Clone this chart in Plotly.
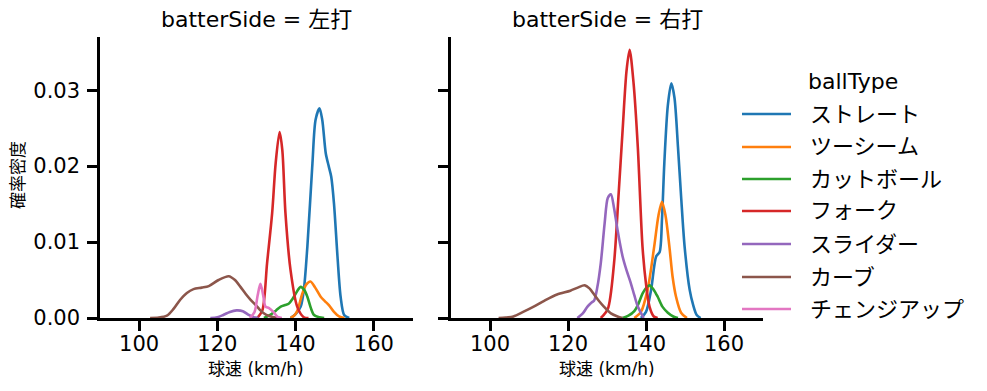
import plotly.graph_objects as go

W, H = 987, 391
FONT = "DejaVu Sans, Noto Sans CJK JP"

ball_types = ["ストレート", "ツーシーム", "カットボール", "フォーク", "スライダー", "カーブ", "チェンジアップ"]
colors = ["#1f77b4", "#ff7f0e", "#2ca02c", "#d62728", "#9467bd", "#8c564b", "#e377c2"]
panel_titles = ["batterSide = 左打", "batterSide = 右打"]
x_ticks = [100, 120, 140, 160]
y_ticks = [0.0, 0.01, 0.02, 0.03]
y_tick_labels = ["0.00", "0.01", "0.02", "0.03"]

# ---- 左打 (left-handed batters): density curves ----
L_straight_x = [138.7, 140.0, 141.3, 142.1, 143.0, 144.3, 145.1, 146.1, 146.8, 147.7, 148.5, 149.1, 149.8, 150.7, 151.5, 152.4, 153.7]
L_straight_y = [0, 0.0005, 0.0015, 0.0037, 0.0094, 0.0204, 0.0261, 0.0276, 0.0261, 0.0217, 0.0199, 0.0186, 0.0151, 0.0081, 0.0028, 0.0004, 0]
L_twoseam_x = [138.7, 139.6, 140.4, 141.7, 142.7, 143.8, 145.0, 146.4, 147.5, 148.5, 149.8, 151.1, 152.5]
L_twoseam_y = [0, 0.0003, 0.0009, 0.0032, 0.0044, 0.0048, 0.0040, 0.0028, 0.0022, 0.0017, 0.0008, 0.0002, 0]
L_cutter_x = [131.9, 133.5, 135.0, 136.2, 137.3, 138.3, 139.2, 140.0, 141.3, 142.2, 143.0, 143.9, 144.7, 146.0, 147.3]
L_cutter_y = [0, 0.0004, 0.0010, 0.0015, 0.0017, 0.0019, 0.0025, 0.0032, 0.0041, 0.0037, 0.0028, 0.0013, 0.0004, 0.0001, 0]
L_fork_x = [130.2, 131.5, 132.7, 134.0, 134.9, 135.9, 136.6, 137.4, 138.7, 140.4, 142.1, 143.3]
L_fork_y = [0, 0.0010, 0.0072, 0.0138, 0.0204, 0.0245, 0.0221, 0.0138, 0.0063, 0.0015, 0.0001, 0]
L_slider_x = [118.2, 120.0, 121.5, 123.2, 124.9, 126.5, 128.0, 129.3, 130.5]
L_slider_y = [0, 0.0001, 0.0004, 0.0008, 0.0010, 0.0009, 0.0004, 0.0001, 0]
L_curve_x = [102.8, 105.0, 107.1, 108.8, 110.5, 112.2, 113.9, 116.0, 117.8, 120.3, 122.9, 124.5, 125.9, 127.2, 128.5, 130.0, 131.0, 132.5, 134.4, 136.0]
L_curve_y = [0, 0.00005, 0.0003, 0.0012, 0.0024, 0.0033, 0.0038, 0.0040, 0.0042, 0.0050, 0.0055, 0.0050, 0.0041, 0.0032, 0.0024, 0.0016, 0.0010, 0.0004, 0.0001, 0]
L_change_x = [128.3, 129.5, 130.3, 131.0, 131.7, 132.3, 133.2, 134.3, 135.5, 136.5]
L_change_y = [0, 0.0008, 0.0030, 0.0045, 0.0030, 0.0015, 0.0013, 0.0008, 0.0001, 0]

# ---- 右打 (right-handed batters) ----
R_straight_x = [138.7, 140.0, 141.3, 142.6, 143.5, 144.1, 144.7, 145.6, 146.5, 147.3, 148.2, 149.0, 149.9, 151.2, 152.1, 153.0, 154.0]
R_straight_y = [0, 0.0008, 0.0037, 0.0081, 0.0087, 0.0130, 0.0204, 0.0280, 0.0309, 0.0290, 0.0225, 0.0160, 0.0094, 0.0037, 0.0017, 0.0004, 0]
R_twoseam_x = [137.0, 138.7, 140.4, 142.1, 143.2, 144.1, 145.0, 146.0, 146.8, 147.7, 149.0, 150.5]
R_twoseam_y = [0, 0.0008, 0.0037, 0.0094, 0.0135, 0.0153, 0.0135, 0.0094, 0.0055, 0.0028, 0.0007, 0]
R_cutter_x = [134.0, 135.5, 137.0, 138.0, 139.1, 140.1, 140.9, 142.0, 143.0, 144.2, 145.6, 147.0, 148.2]
R_cutter_y = [0, 0.0003, 0.0009, 0.0018, 0.0032, 0.0040, 0.0043, 0.0037, 0.0028, 0.0015, 0.0007, 0.0002, 0]
R_fork_x = [128.4, 130.2, 131.8, 133.0, 134.0, 135.0, 135.8, 136.8, 137.9, 139.1, 140.0, 140.9, 142.0, 143.0]
R_fork_y = [0, 0.0012, 0.0072, 0.0165, 0.0247, 0.0325, 0.0353, 0.0310, 0.0225, 0.0094, 0.0045, 0.0015, 0.0002, 0]
R_slider_x = [122.4, 123.8, 125.0, 126.2, 126.7, 127.5, 128.4, 129.4, 130.2, 131.0, 131.8, 132.7, 134.0, 135.0, 136.1, 137.0, 137.9, 139.4]
R_slider_y = [0, 0.0006, 0.0015, 0.0021, 0.0023, 0.0040, 0.0072, 0.0125, 0.0158, 0.0163, 0.0145, 0.0116, 0.0081, 0.0063, 0.0046, 0.0030, 0.0015, 0]
R_curve_x = [102.2, 104.0, 106.0, 108.5, 111.2, 114.0, 117.2, 120.6, 122.5, 124.3, 125.5, 126.7, 128.0, 129.2, 131.0, 132.7, 134.0]
R_curve_y = [0, 0.00005, 0.0002, 0.0008, 0.0015, 0.0023, 0.0031, 0.0036, 0.0040, 0.0043, 0.0039, 0.0031, 0.0022, 0.0015, 0.0006, 0.0002, 0]

left_series = [
    (L_straight_x, L_straight_y), (L_twoseam_x, L_twoseam_y), (L_cutter_x, L_cutter_y),
    (L_fork_x, L_fork_y), (L_slider_x, L_slider_y), (L_curve_x, L_curve_y), (L_change_x, L_change_y),
]
right_series = [
    (R_straight_x, R_straight_y), (R_twoseam_x, R_twoseam_y), (R_cutter_x, R_cutter_y),
    (R_fork_x, R_fork_y), (R_slider_x, R_slider_y), (R_curve_x, R_curve_y), None,
]

fig = go.Figure()
for i, name in enumerate(ball_types):
    for series, xa, ya in ((left_series[i], "x", "y"), (right_series[i], "x2", "y2")):
        if series is None:
            continue
        xs, ys = series
        fig.add_trace(go.Scatter(
            x=xs, y=ys, mode="lines", name=name, xaxis=xa, yaxis=ya,
            line=dict(color=colors[i], width=2.6, shape="spline", smoothing=0.8),
            showlegend=False, hoverinfo="skip",
        ))


def px(x):
    return x / W


def py(y):
    return 1 - y / H


ydom = [py(318), py(37)]
axis_common = dict(
    showline=True, linecolor="black", linewidth=2.5,
    ticks="outside", ticklen=10, tickwidth=2.5, tickcolor="black",
    showgrid=False, zeroline=False, automargin=False,
    tickfont=dict(family=FONT, size=21, color="black"),
)
fig.update_layout(
    template="none",
    width=W, height=H,
    margin=dict(l=0, r=0, t=0, b=0, pad=0, autoexpand=False),
    paper_bgcolor="white", plot_bgcolor="white",
    font=dict(family=FONT, color="black"),
    xaxis=dict(domain=[px(100), px(413)], range=[90, 170], tickvals=x_ticks, anchor="y",
               ticklabelstandoff=-5, **axis_common),
    xaxis2=dict(domain=[px(451), px(763)], range=[90, 170], tickvals=x_ticks, anchor="y2",
                ticklabelstandoff=-5, **axis_common),
    yaxis=dict(domain=ydom, range=[0, 0.037], tickvals=y_ticks, ticktext=y_tick_labels, anchor="x",
               ticklabelstandoff=3, **axis_common),
    yaxis2=dict(domain=ydom, range=[0, 0.037], tickvals=y_ticks, ticktext=["", "", "", ""], anchor="x2",
                matches="y", **axis_common),
    showlegend=False,
)

annotations = []
for cx, title in zip([256, 607], panel_titles):
    annotations.append(dict(x=px(cx), y=py(20), xref="paper", yref="paper", text=title, showarrow=False,
                            xanchor="center", yanchor="middle", font=dict(family=FONT, size=22)))
    annotations.append(dict(x=px(cx), y=py(369), xref="paper", yref="paper", text="球速 (km/h)", showarrow=False,
                            xanchor="center", yanchor="middle", font=dict(family=FONT, size=17)))
annotations.append(dict(x=px(18), y=py(175), xref="paper", yref="paper", text="確率密度", showarrow=False,
                        textangle=-90, xanchor="center", yanchor="middle", font=dict(family=FONT, size=17)))
# legend (title + entries)
annotations.append(dict(x=px(806), y=py(81), xref="paper", yref="paper", text="ballType", showarrow=False,
                        xanchor="left", yanchor="middle", font=dict(family=FONT, size=22)))
legend_rows = [114, 147, 179, 211, 244, 277, 309]
shapes = []
for name, col, ry in zip(ball_types, colors, legend_rows):
    shapes.append(dict(type="line", xref="paper", yref="paper", x0=px(742), x1=px(791), y0=py(ry), y1=py(ry),
                       line=dict(color=col, width=2.6)))
    annotations.append(dict(x=px(808), y=py(ry), xref="paper", yref="paper", text=name, showarrow=False,
                            xanchor="left", yanchor="middle", font=dict(family=FONT, size=22)))
fig.update_layout(annotations=annotations, shapes=shapes)

fig.write_html(
    "out.html",
    config={"displayModeBar": False},
    post_script="document.body.style.margin='0';document.body.style.overflow='hidden';",
)
